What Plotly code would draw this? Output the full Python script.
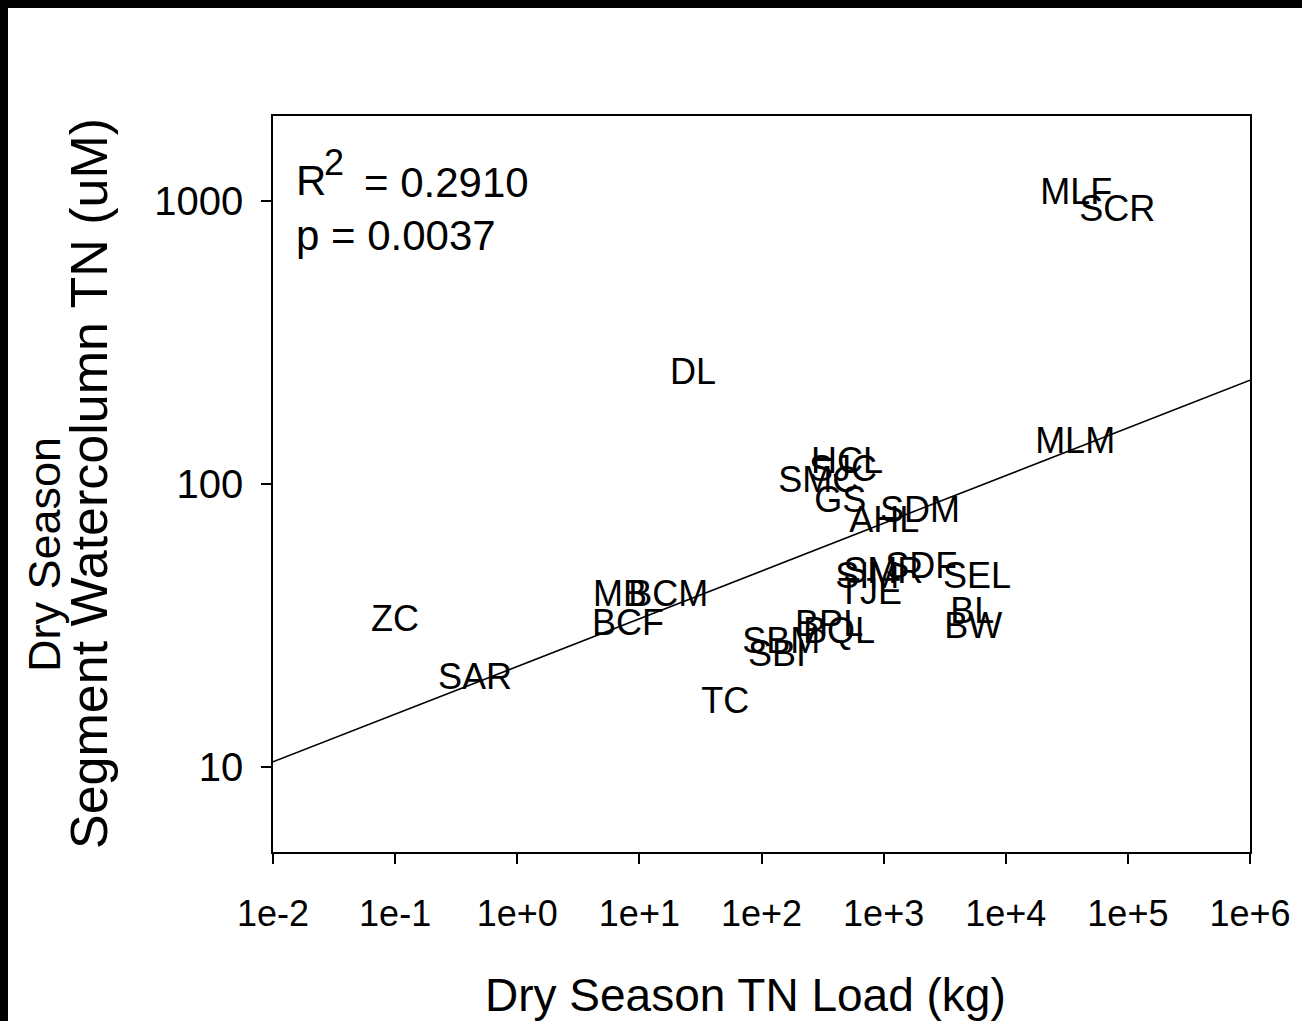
import numpy as np
import plotly.graph_objects as go

# Site codes with dry-season TN load (kg) and segment water-column TN (uM)
sites = ["MLF", "SCR", "DL", "MLM", "HCL", "SJC", "SMC", "GS", "AHL", "SDM",
         "SDF", "SMR", "SIM", "TJE", "SEL", "BL", "BW", "BPL", "BQL", "SBM",
         "SBI", "MB", "BCM", "BCF", "TC", "ZC", "SAR"]
tn_load = [37750, 81700, 27.5, 37000, 502, 466, 291, 441, 1010, 1990,
           2030, 991, 733, 775, 5830, 5310, 5410, 358, 432, 145,
           134, 6.95, 17.2, 8.07, 50.4, 0.0998, 0.451]
tn_conc = [1050, 918, 243, 139, 118, 110, 100.6, 85.5, 72.6, 78.7,
           49.9, 47.9, 46.0, 40.6, 46.0, 34.6, 30.6, 31.3, 29.4, 27.1,
           24.5, 40.0, 40.0, 31.6, 16.7, 32.4, 20.3]

# log-log regression: log10(TN) = intercept + slope * log10(load)
fit_intercept = 1.355
fit_slope = 0.1687
r_squared = "0.2910"
p_value = "0.0037"

x_tick_vals = [1e-2, 1e-1, 1e0, 1e1, 1e2, 1e3, 1e4, 1e5, 1e6]
x_tick_text = ["1e-2", "1e-1", "1e+0", "1e+1", "1e+2", "1e+3", "1e+4", "1e+5", "1e+6"]
y_tick_vals = [10, 100, 1000]
y_tick_text = ["10", "100", "1000"]

W, H = 1302, 1021
L, R, T, B = 273, 1250, 116, 852
FONT = "Liberation Sans, Arial, sans-serif"


def px(xp):
    return (xp - L) / (R - L)


def py(yp):
    return (B - yp) / (B - T)


def label(text, x, y, size, xanchor="left", angle=0):
    return dict(text=text, textangle=angle, xref="paper", yref="paper",
                x=px(x), y=py(y), xanchor=xanchor, yanchor="middle",
                showarrow=False, font=dict(family=FONT, size=size, color="black"))


fit_x = np.array([1e-2, 1e6])
fit_y = 10 ** (fit_intercept + fit_slope * np.log10(fit_x))

fig = go.Figure()
fig.add_trace(go.Scatter(
    x=fit_x, y=fit_y, mode="lines",
    line=dict(color="black", width=1.6), showlegend=False, hoverinfo="skip"))
fig.add_trace(go.Scatter(
    x=tn_load, y=tn_conc, mode="text", text=sites,
    textposition="middle center",
    textfont=dict(family=FONT, size=36, color="black"),
    showlegend=False))

axis_common = dict(
    type="log", showgrid=False, zeroline=False,
    showline=True, linecolor="black", linewidth=1.6, mirror=True,
    ticks="outside", ticklen=10, tickwidth=1.6, tickcolor="black",
)

fig.update_layout(
    width=W, height=H,
    margin=dict(l=L, r=W - R, t=T, b=H - B),
    paper_bgcolor="white", plot_bgcolor="white",
    xaxis=dict(axis_common, range=[-2, 6], tickvals=x_tick_vals,
               ticktext=x_tick_text, ticklabelstandoff=19,
               tickfont=dict(family=FONT, size=36, color="black")),
    yaxis=dict(axis_common, range=[np.log10(5), np.log10(2000)],
               tickvals=y_tick_vals, ticktext=y_tick_text,
               ticklabelstandoff=10,
               tickfont=dict(family=FONT, size=40, color="black")),
    shapes=[
        dict(type="rect", xref="paper", yref="paper",
             x0=px(-10), x1=px(W + 10), y0=py(8), y1=py(-10),
             fillcolor="black", line=dict(width=0), layer="above"),
        dict(type="rect", xref="paper", yref="paper",
             x0=px(-10), x1=px(8), y0=py(H + 10), y1=py(-10),
             fillcolor="black", line=dict(width=0), layer="above"),
    ],
    annotations=[
        label("R", 294, 180, 42),
        label("2", 322, 162, 36),
        label("= " + r_squared, 362, 182, 42),
        label("p = " + p_value, 294, 236, 42),
        label("Dry Season TN Load (kg)", 745, 995, 46, xanchor="center"),
        label("Dry Season", 44, 555, 45, xanchor="center", angle=-90),
        label("Segment Watercolumn TN (uM)", 89, 484, 52,
              xanchor="center", angle=-90),
    ],
)

fig.write_html("out.html")
